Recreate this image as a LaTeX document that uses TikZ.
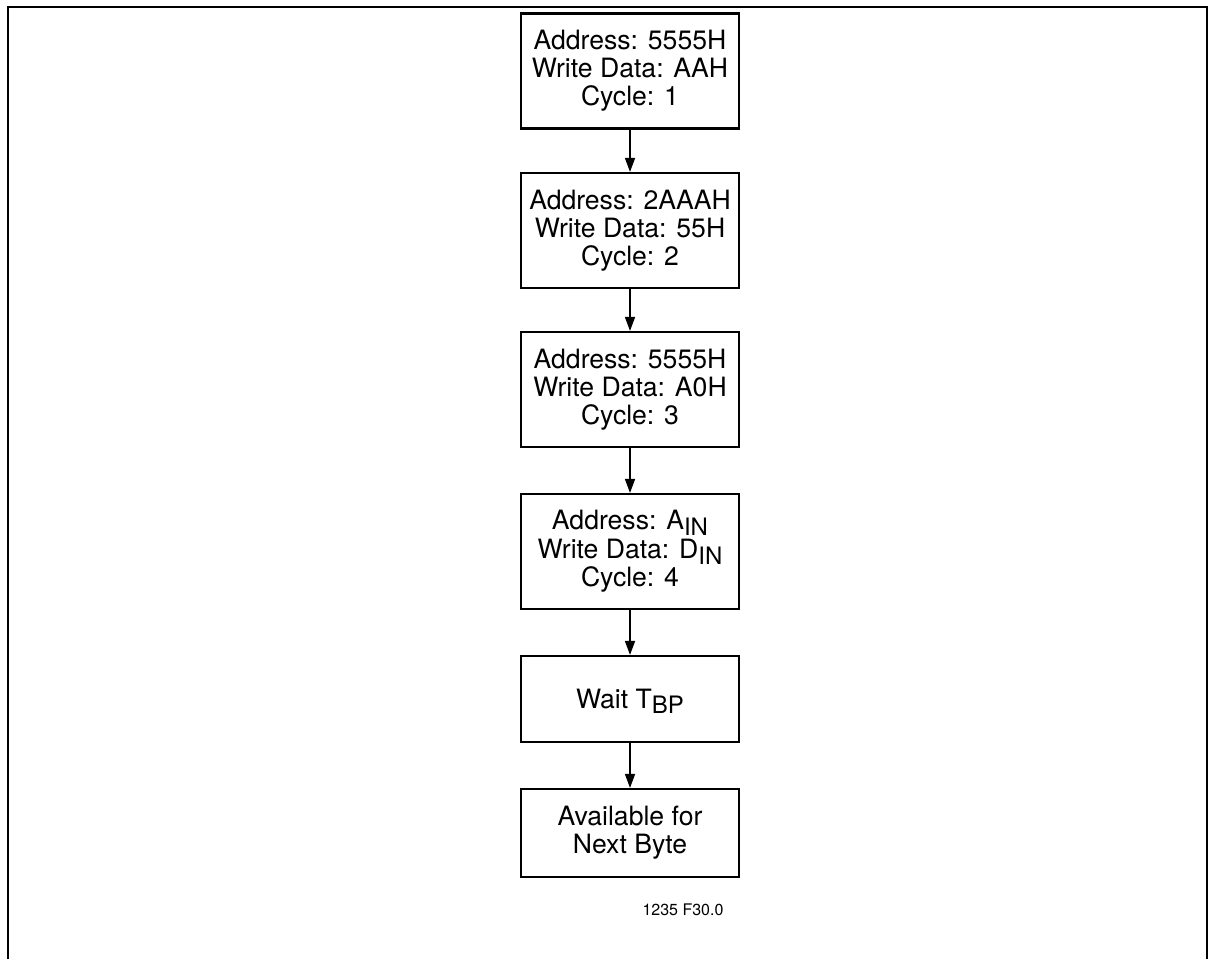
\documentclass[tikz,border=0pt]{standalone}
\usepackage{fontspec}
\setmainfont{TeX Gyre Heros}
\usetikzlibrary{arrows.meta}
\newcommand{\lowtxt}[1]{\raisebox{-0.2em}[\height][0pt]{\fontsize{12}{12}\selectfont #1}}
\tikzset{
  stepbox/.style={rectangle, draw, line width=1.1pt, minimum width=109pt, align=center,
    inner sep=0pt, font=\fontsize{13.3}{14}\selectfont},
  flow/.style={-{Triangle[length=7pt,width=5pt]}, line width=0.8pt}
}
\begin{document}
\begin{tikzpicture}[x=0.5pt, y=-0.5pt]
  \useasboundingbox (0,0) rectangle (1213,959);
  % frame, open at the bottom
  \draw[line width=1.2pt] (8,959) -- (8,7) -- (1207,7) -- (1207,959);
  \node[stepbox, minimum height=57.5pt] (c1) at (630,71) {Address: 5555H\\Write Data: AAH\\Cycle: 1};
  \node[stepbox, minimum height=57.5pt] (c2) at (630,230.5) {Address: 2AAAH\\Write Data: 55H\\Cycle: 2};
  \node[stepbox, minimum height=57.5pt] (c3) at (630,389.5) {Address: 5555H\\Write Data: A0H\\Cycle: 3};
  \node[stepbox, minimum height=57.5pt] (c4) at (630,551.5) {Address: A\lowtxt{IN}\\[0.5pt]Write Data: D\lowtxt{IN}\\Cycle: 4};
  \node[stepbox, minimum height=43pt] (wait) at (630,699) {Wait T\lowtxt{BP}};
  \node[stepbox, minimum height=44pt] (next) at (630,833) {Available for\\Next Byte};
  \foreach \a/\b in {c1/c2, c2/c3, c3/c4, c4/wait, wait/next}
    \draw[flow] (\a) -- (\b);
  \node[font=\fontsize{8}{9}\selectfont] (fig) at (683,910) {1235 F30.0};
\end{tikzpicture}
\end{document}
